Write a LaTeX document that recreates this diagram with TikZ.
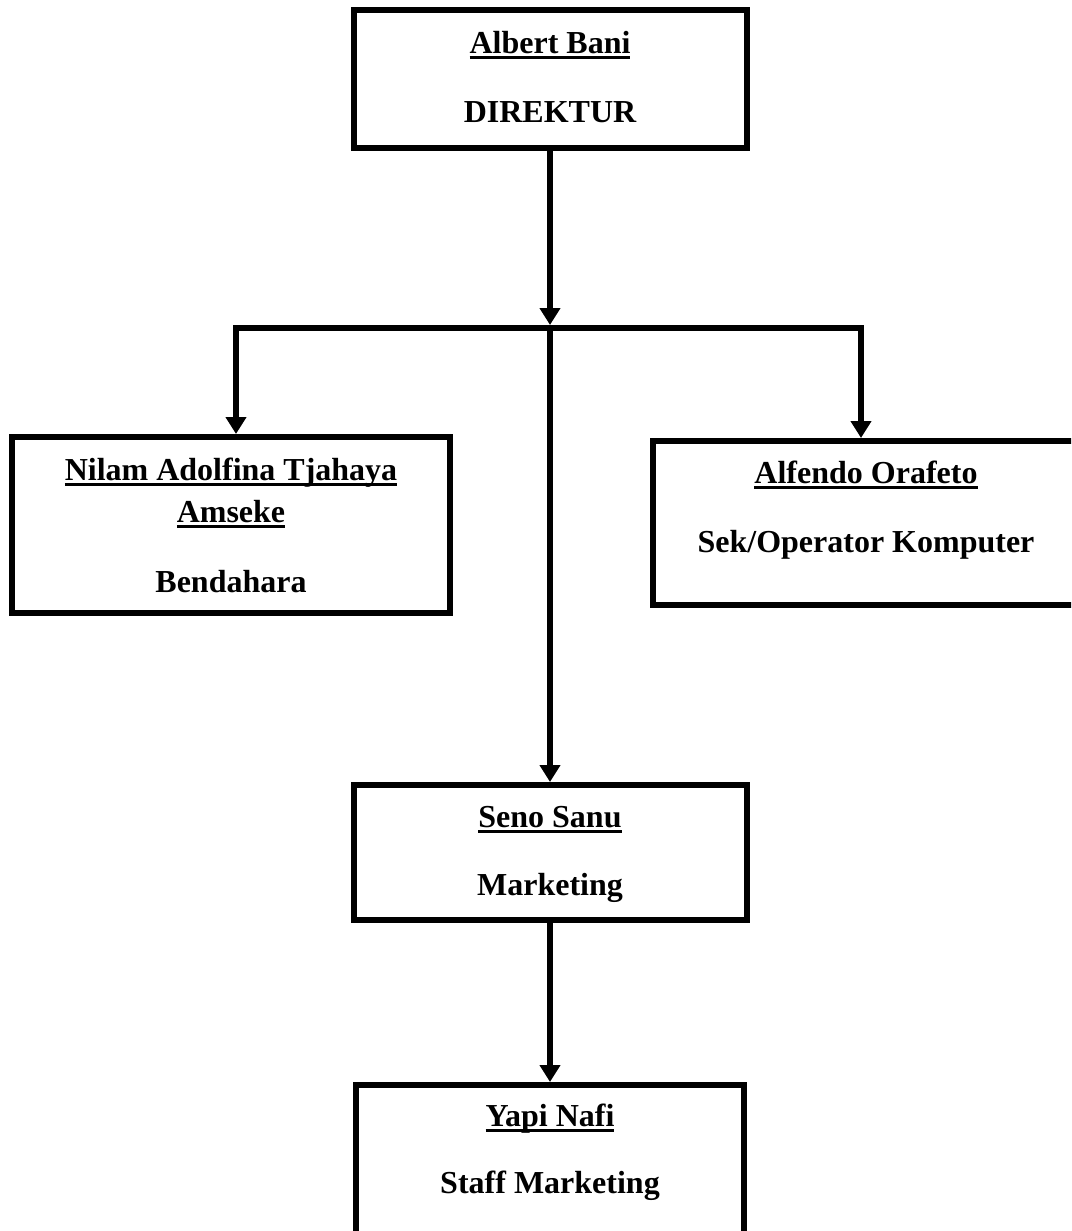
\documentclass[tikz,border=0pt]{standalone}
\usepackage{fontspec}
\setmainfont{Liberation Serif}
\usetikzlibrary{arrows.meta}
\newcommand\myul[1]{\setbox0\hbox{#1}\rlap{\rule[-6pt]{\wd0}{2.6pt}}\box0}
\tikzset{
  orgbox/.style={draw=black, line width=6pt, inner sep=0pt, fill=white},
  lbl/.style={anchor=base, inner sep=0pt, font=\bfseries\fontsize{32}{38}\selectfont},
  conn/.style={line width=6pt, line join=miter},
  arr/.style={conn, -{Triangle[width=20pt,length=17pt]}}
}
\begin{document}
\begin{tikzpicture}[x=1pt,y=-1pt]
\clip (0,0) rectangle (1071,1231);
\fill[white] (0,0) rectangle (1071,1231);
% boxes
\node[orgbox, minimum width=393pt, minimum height=138pt] (top) at (550,79) {};
\node[orgbox, minimum width=438pt, minimum height=176pt] (left) at (231,525) {};
\node[orgbox, minimum width=426pt, minimum height=164pt] (right) at (866,523) {};
\node[orgbox, minimum width=393pt, minimum height=135pt] (mid) at (550,852.5) {};
\node[orgbox, minimum width=388pt, minimum height=160pt] (bot) at (550,1165) {};
% texts
\node[lbl] (t1) at (550,53) {\myul{Albert Bani}};
\node[lbl] (t2) at (550,122) {DIREKTUR};
\node[lbl] (l1) at (231,480) {\myul{Nilam Adolfina Tjahaya}};
\node[lbl] (l2) at (231,522) {\myul{Amseke}};
\node[lbl] (l3) at (231,592) {Bendahara};
\node[lbl] (r1) at (866,483) {\myul{Alfendo Orafeto}};
\node[lbl] (r2) at (866,552) {Sek/Operator Komputer};
\node[lbl] (m1) at (550,827) {\myul{Seno Sanu}};
\node[lbl] (m2) at (550,895) {Marketing};
\node[lbl] (b1) at (550,1126) {\myul{Yapi Nafi}};
\node[lbl] (b2) at (550,1193) {Staff Marketing};
% junction coordinates
\coordinate (jt) at (550,325);
\coordinate (hm) at (550,328);
\coordinate (hl) at (236,328);
\coordinate (hr) at (861,328);
% connectors
\draw[arr] (top.south) -- (jt);
\draw[arr] (hm) -- (hl) -- (hl |- left.north);
\draw[arr] (hm) -- (hr) -- (hr |- right.north);
\draw[arr] (hm) -- (mid.north);
\draw[arr] (mid.south) -- (bot.north);
\end{tikzpicture}
\end{document}
